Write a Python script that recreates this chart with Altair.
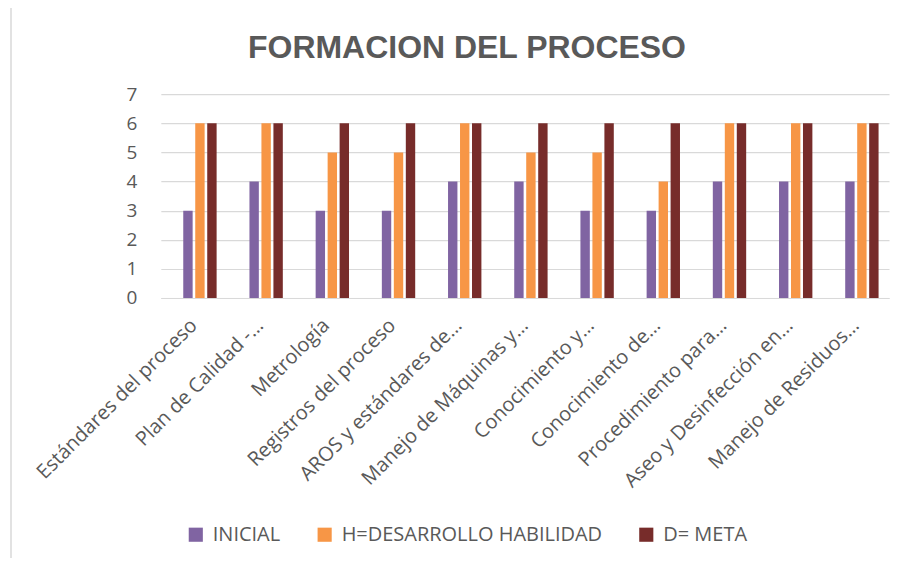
import altair as alt
import pandas as pd

categories = [
    "Estándares del proceso",
    "Plan de Calidad -…",
    "Metrología",
    "Registros del proceso",
    "AROS y estándares de…",
    "Manejo de Máquinas y…",
    "Conocimiento y…",
    "Conocimiento de…",
    "Procedimiento para…",
    "Aseo y Desinfección en…",
    "Manejo de Residuos…",
]
series = ["INICIAL", "H=DESARROLLO HABILIDAD", "D= META"]
inicial = [3, 4, 3, 3, 4, 4, 3, 3, 4, 4, 4]
desarrollo = [6, 6, 5, 5, 6, 5, 5, 4, 6, 6, 6]
meta = [6, 6, 6, 6, 6, 6, 6, 6, 6, 6, 6]
colors = ["#8064A2", "#F79646", "#772C2A"]

rows = []
for s, vals in zip(series, [inicial, desarrollo, meta]):
    for c, v in zip(categories, vals):
        rows.append({"categoria": c, "serie": s, "valor": v})
df = pd.DataFrame(rows)

GRAY = "#595959"

bars = alt.Chart(df).mark_bar(size=9.4).encode(
    x=alt.X(
        "categoria:N",
        sort=categories,
        title=None,
        scale=alt.Scale(paddingInner=0.3155, paddingOuter=0.158),
        axis=alt.Axis(
            labelAngle=-45,
            labelAlign="right",
            labelBaseline="middle",
            labelFont="Open Sans",
            labelFontSize=20,
            labelColor=GRAY,
            labelPadding=24,
            labelLimit=400,
            ticks=False,
            tickSize=0,
            domainColor="#d9d9d9",
            domainWidth=1,
            grid=False,
        ),
    ),
    xOffset=alt.XOffset(
        "serie:N",
        scale=alt.Scale(domain=[" "] + series, paddingInner=0.22, paddingOuter=0),
    ),
    y=alt.Y(
        "valor:Q",
        title=None,
        scale=alt.Scale(domain=[0, 7], nice=False),
        axis=alt.Axis(
            values=[0, 1, 2, 3, 4, 5, 6, 7],
            labelFont="Open Sans",
            labelFontSize=19,
            labelColor=GRAY,
            labelPadding=24,
            ticks=False,
            domain=False,
            gridColor="#d9d9d9",
            gridWidth=1.2,
        ),
    ),
    color=alt.Color(
        "serie:N",
        scale=alt.Scale(domain=series, range=colors),
        legend=alt.Legend(
            title=None,
            orient="none",
            legendX=25,
            legendY=431,
            direction="horizontal",
            symbolType="square",
            symbolSize=200,
            symbolStrokeWidth=0,
            symbolOpacity=1,
            labelFont="Open Sans",
            labelFontSize=20,
            labelColor=GRAY,
            labelOffset=7,
            columnPadding=34,
            labelLimit=500,
        ),
    ),
)

frame = alt.Chart(alt.Data(values=[{}])).mark_rect(
    fill=None, stroke="#d9d9d9", strokeWidth=1.5
).encode(
    x=alt.value(-150),
    x2=alt.value(760),
    y=alt.value(-89),
    y2=alt.value(480),
)

chart = alt.layer(frame, bars).properties(
    width=729,
    height=204,
    title=alt.TitleParams(
        "FORMACION DEL PROCESO",
        font="Liberation Sans",
        fontSize=32,
        fontWeight="bold",
        color=GRAY,
        anchor="middle",
        frame="group",
        baseline="alphabetic",
        offset=39,
        dx=-58,
        dy=124,
    ),
    autosize=alt.AutoSizeParams(type="none"),
    padding={"left": 153, "top": 86, "right": 10, "bottom": 260},
).configure_view(stroke=None)

chart.save("out.html", embed_options={"renderer": "svg", "actions": False})
